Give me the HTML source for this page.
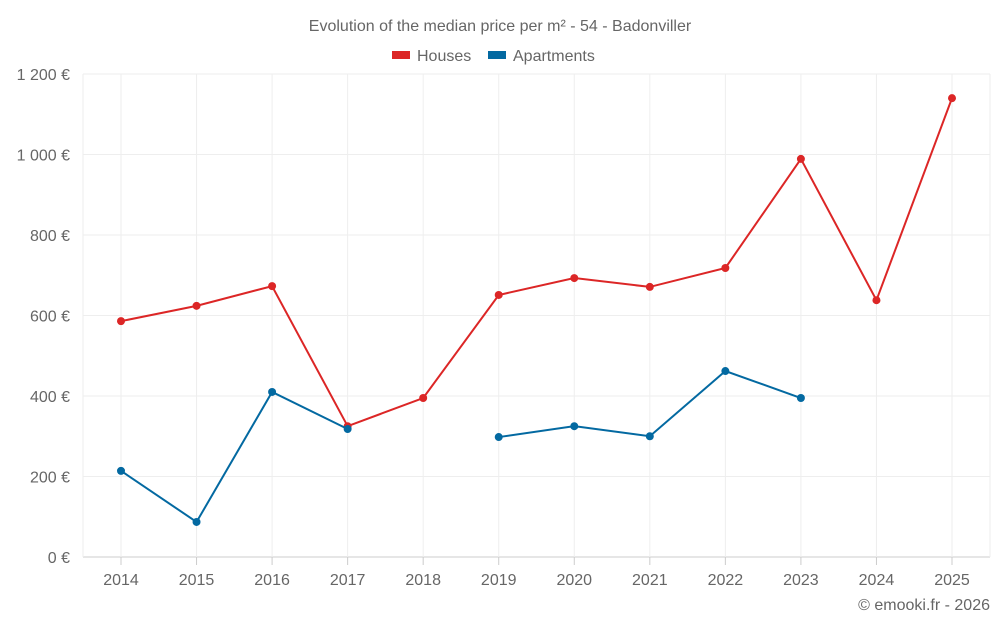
<!DOCTYPE html>
<html><head><meta charset="utf-8"><style>
body{margin:0;background:#fff;font-family:"Liberation Sans",Roboto,sans-serif;}
svg text{font-family:"Liberation Sans",sans-serif;fill:#666;}
</style></head><body>
<svg id="chart" width="1000" height="625" xmlns="http://www.w3.org/2000/svg">
<text x="500" y="31" text-anchor="middle" font-size="16">Evolution of the median price per m² - 54 - Badonviller</text>
<g><rect x="392" y="51" width="18" height="8" fill="#dc2626"/><text x="417" y="61" font-size="16">Houses</text></g>
<g><rect x="488" y="51" width="18" height="8" fill="#0369a1"/><text x="513" y="61" font-size="16">Apartments</text></g>
<g id="grid"></g><g id="axes"></g><g id="series"></g>
<text x="990" y="610" text-anchor="end" font-size="16">© emooki.fr - 2026</text>
</svg>
<script>
const years=[2014,2015,2016,2017,2018,2019,2020,2021,2022,2023,2024,2025];
const houses=[586,624,673,325,395,651,693,671,718,989,638,1140];
const apartments=[214,87,410,318,null,298,325,300,462,395,null,null];
const yTicks=[0,200,400,600,800,1000,1200];
const yLabels=["0 €","200 €","400 €","600 €","800 €","1 000 €","1 200 €"];
const NS="http://www.w3.org/2000/svg";
const x=i=>121+i*(952-121)/11;
const y=v=>557-v*(557-74)/1200;
function mk(t,a,p){const e=document.createElementNS(NS,t);for(const k in a)e.setAttribute(k,a[k]);p.appendChild(e);return e;}
const g=document.getElementById('grid'),ax=document.getElementById('axes'),s=document.getElementById('series');
yTicks.forEach((v,i)=>{
 const l=mk('line',{x1:83,x2:990,y1:y(v),y2:y(v),stroke:i==0?'#ccc':'#eee'},g);
 
 
 const t=mk('text',{x:70,y:y(v)+6,'text-anchor':'end','font-size':16},ax);t.textContent=yLabels[i];
 
 
});
[83,990].forEach(xx=>{const l=mk('line',{x1:xx,x2:xx,y1:74,y2:557,stroke:'#eee'},g);
 
 });
years.forEach((yr,i)=>{
 const l=mk('line',{x1:x(i),x2:x(i),y1:74,y2:557,stroke:'#eee'},g);
 
 
 const k=mk('line',{x1:x(i),x2:x(i),y1:557,y2:565,stroke:'#ccc'},ax);
 
 
 const t=mk('text',{x:x(i),y:585,'text-anchor':'middle','font-size':16},ax);t.textContent=yr;
 
 
});
function draw(data,color,name){
 let segs=[],cur=[];
 data.forEach((v,i)=>{if(v==null){if(cur.length)segs.push(cur);cur=[];}else cur.push([x(i),y(v)]);});
 if(cur.length)segs.push(cur);
 segs.forEach(sg=>{const p=mk('polyline',{points:sg.map(q=>q.join(',')).join(' '),fill:'none',stroke:color,'stroke-width':2},s);
  
  });
 data.forEach((v,i)=>{if(v==null)return;const c=mk('circle',{cx:x(i),cy:y(v),r:4,fill:color},s);
  
  });
}
draw(houses,'#dc2626','houses');
draw(apartments,'#0369a1','apartments');
</script>
</body></html>
